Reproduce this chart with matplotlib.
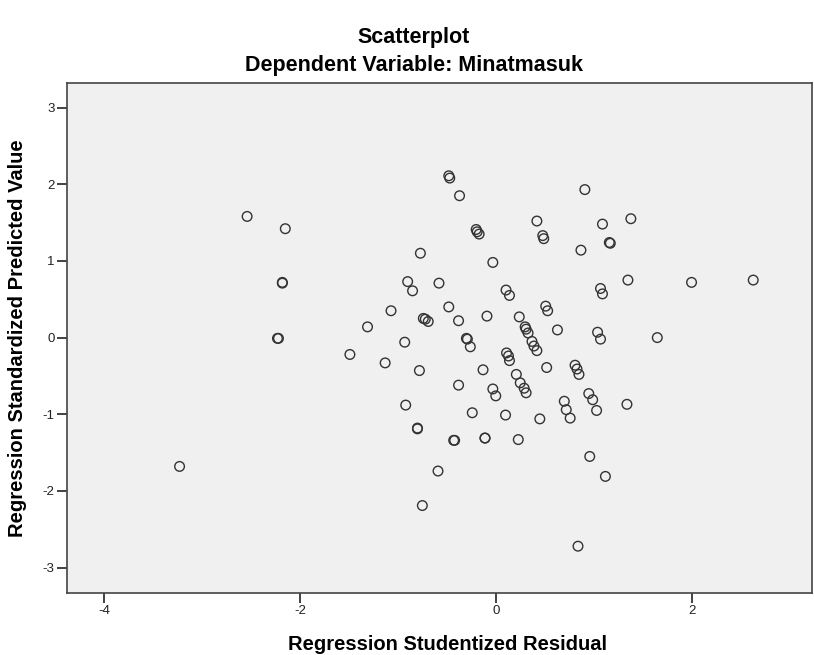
import matplotlib.pyplot as plt

# Data
resid = [-2.54, -2.15, -2.18, -2.18, -0.48, -0.47, -0.37, -0.20, -0.19, -0.17,
         0.42, 0.48, 0.49, -0.77, -0.03, -0.90, -0.85, -0.58, 0.105, 0.14,
         0.51, 0.53, -1.07, -0.48, -0.74, -0.72, -0.69, -0.38, -0.09, 0.24,
         -1.31, 0.30, 0.31, 0.33, 0.63, 0.91, 1.09, 1.38, 1.16, 1.17,
         0.87, 1.35, 2.00, 2.63, 1.07, 1.09, 1.04, 1.07, 1.65, -1.49,
         -0.93, -1.13, -0.30, -0.29, -0.26, 0.37, 0.39, 0.42, 0.11, 0.13,
         0.14, 0.52, 0.81, 0.83, 0.85, -0.78, -0.13, 0.21, 0.25, 0.29,
         0.31, -0.38, -0.03, 0.00, 0.95, 0.99, 1.03, 0.70, 0.72, 0.76,
         1.34, -0.92, -0.24, 0.10, 0.45, -0.80, -0.80, -0.43, -0.42, -0.11,
         -0.11, 0.23, -0.59, -0.75, 0.96, 1.12, 0.84, -2.23, -2.22, -3.23]
pred = [1.58, 1.42, 0.72, 0.71, 2.11, 2.08, 1.85, 1.41, 1.38, 1.35,
        1.52, 1.33, 1.29, 1.10, 0.98, 0.73, 0.61, 0.71, 0.62, 0.55,
        0.41, 0.35, 0.35, 0.40, 0.25, 0.24, 0.21, 0.22, 0.28, 0.27,
        0.14, 0.14, 0.11, 0.06, 0.10, 1.93, 1.48, 1.55, 1.24, 1.23,
        1.14, 0.75, 0.72, 0.75, 0.64, 0.57, 0.07, -0.02, 0.00, -0.22,
        -0.06, -0.33, -0.01, -0.02, -0.12, -0.05, -0.11, -0.17, -0.20, -0.24,
        -0.30, -0.39, -0.36, -0.41, -0.48, -0.43, -0.42, -0.48, -0.59, -0.66,
        -0.72, -0.62, -0.67, -0.76, -0.73, -0.81, -0.95, -0.83, -0.94, -1.05,
        -0.87, -0.88, -0.98, -1.01, -1.06, -1.18, -1.19, -1.34, -1.34, -1.31,
        -1.31, -1.33, -1.74, -2.19, -1.55, -1.81, -2.72, -0.01, -0.01, -1.68]

plt.rcParams['font.family'] = ['Liberation Sans', 'DejaVu Sans']
plt.rcParams['axes.unicode_minus'] = False

fig = plt.figure(figsize=(8.14, 6.55), dpi=100)
ax = fig.add_axes([0.0823, 0.0947, 0.9152, 0.7786])
ax.set_facecolor('#f0f0f0')

ax.scatter(resid, pred, s=48, facecolors='none', edgecolors='#333333', linewidths=1.0, zorder=3)

ax.set_xlim(-4.38, 3.23)
ax.set_ylim(-3.33, 3.32)
ax.set_xticks([-4, -2, 0, 2])
ax.set_yticks([-3, -2, -1, 0, 1, 2, 3])
ax.tick_params(direction='out', length=7, width=1.2, labelsize=9.5, colors='#222222', pad=2)

for side in ['left', 'bottom', 'top', 'right']:
    ax.spines[side].set_linewidth(1.2)
    ax.spines[side].set_color('#444444')

ax.set_xlabel('Regression Studentized Residual', fontsize=14.5, fontweight='bold')
ax.set_ylabel('Regression Standardized Predicted Value', fontsize=14.5, fontweight='bold')
ax.xaxis.set_label_coords(0.511, -0.102)
ax.yaxis.set_label_coords(-0.067, 0.5)
ax.xaxis.label.set_va('center')
ax.yaxis.label.set_va('center')

fig.text(0.508, 0.942, 'Scatterplot', ha='center', va='center', fontsize=15.5, fontweight='bold')
fig.text(0.508, 0.900, 'Dependent Variable: Minatmasuk', ha='center', va='center', fontsize=15.5, fontweight='bold')

fig.savefig('out.png', dpi=100)
